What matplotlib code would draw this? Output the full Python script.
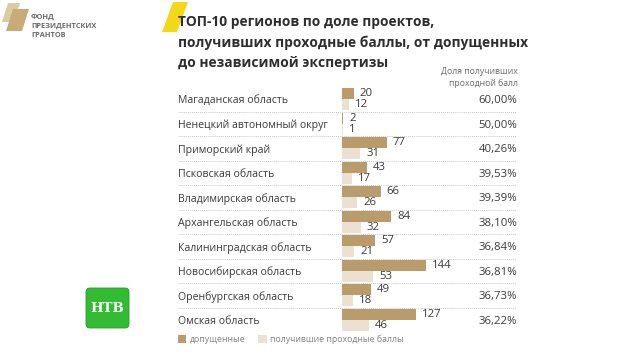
import matplotlib
matplotlib.use("Agg")
import matplotlib.pyplot as plt
from matplotlib.patches import Polygon, FancyBboxPatch, Patch

regions = ["Магаданская область", "Ненецкий автономный округ", "Приморский край",
           "Псковская область", "Владимирская область", "Архангельская область",
           "Калининградская область", "Новосибирская область", "Оренбургская область",
           "Омская область"]
admitted = [20, 2, 77, 43, 66, 84, 57, 144, 49, 127]
passed = [12, 1, 31, 17, 26, 32, 21, 53, 18, 46]
share = ["60,00%", "50,00%", "40,26%", "39,53%", "39,39%", "38,10%",
         "36,84%", "36,81%", "36,73%", "36,22%"]

title_lines = ["ТОП-10 регионов по доле проектов,",
               "получивших проходные баллы, от допущенных",
               "до независимой экспертизы"]
col_header = ["Доля получивших", "проходной балл"]
legend_labels = ["допущенные", "получившие проходные баллы"]
logo_lines = ["ФОНД", "ПРЕЗИДЕНТСКИХ", "ГРАНТОВ"]

DARK = "#BA9B6C"
LIGHT = "#EAE1D3"
TXT = "#3a3a3a"

plt.rcParams['font.family'] = ['Open Sans', 'DejaVu Sans']

W, H = 640, 360
fig = plt.figure(figsize=(W / 100, H / 100), dpi=100)
fig.patch.set_facecolor("white")

# overlay axes in pixel coordinates for decorations
deco = fig.add_axes([0, 0, 1, 1])
deco.set_xlim(0, W)
deco.set_ylim(H, 0)
deco.axis("off")

# logo shapes
deco.add_patch(Polygon([(8, 3), (20, 3), (14, 22), (2, 22)], closed=True,
                       facecolor="#DCC9A6", edgecolor="none"))
deco.add_patch(Polygon([(13, 9), (29, 9), (22, 31), (6, 31)], closed=True,
                       facecolor="#C9AB77", edgecolor="none"))
for i, t in enumerate(logo_lines):
    deco.text(31, 17 + 9.3 * i, t, fontsize=5.3, fontweight="bold",
              color="#6b6b6b", va="center", ha="left")

# yellow accent
deco.add_patch(Polygon([(173, 2), (188, 2), (177, 32), (162, 32)], closed=True,
                       facecolor="#F3D81A", edgecolor="none"))

# title
for i, t in enumerate(title_lines):
    deco.text(178, 22 + 20.5 * i, t, fontsize=9.9, fontweight="bold",
              color="#2e2e2e", va="center", ha="left")

# column header
deco.text(518, 71, col_header[0], fontsize=6.2, color="#6a6a6a", ha="right", va="center")
deco.text(518, 83, col_header[1], fontsize=6.2, color="#6a6a6a", ha="right", va="center")

# NTV logo
deco.add_patch(FancyBboxPatch((86, 288), 43, 40, boxstyle="round,pad=0,rounding_size=4",
                              facecolor="#33BB33", edgecolor="#2a9a2a", linewidth=0.6))
deco.text(107.5, 309, "НТВ", fontsize=9.5, fontweight="bold", color="white",
          ha="center", va="center", family=["DejaVu Serif"])

# main table axes
px_per_unit = 84 / 144.0
x0_px, left_px, right_px = 342, 178, 517
pitch = 24.5
yc0 = 99.3
ylim_top, ylim_bot = -0.6, 9.6
top_px = yc0 + ylim_top * pitch
bot_px = yc0 + ylim_bot * pitch
ax = fig.add_axes([left_px / W, (H - bot_px) / H, (right_px - left_px) / W, (bot_px - top_px) / H])
ax.set_xlim((left_px - x0_px) / px_per_unit, (right_px - x0_px) / px_per_unit)
ax.set_ylim(ylim_bot, ylim_top)
ax.axis("off")

n = len(regions)
ys = list(range(n))
bh = 0.45
ax.barh([y - bh / 2 for y in ys], admitted, height=bh, color=DARK, edgecolor="none")
ax.barh([y + bh / 2 for y in ys], passed, height=bh, color=LIGHT, edgecolor="none")

off = 6 / px_per_unit
for i in ys:
    ax.text(admitted[i] + off, i - bh / 2, str(admitted[i]), fontsize=8.2,
            color=TXT, va="center", ha="left")
    ax.text(passed[i] + off, i + bh / 2, str(passed[i]), fontsize=8.2,
            color=TXT, va="center", ha="left")
    ax.text(0, i + 0.06, regions[i], transform=ax.get_yaxis_transform(),
            fontsize=7.6, color=TXT, va="center", ha="left")
    ax.text(1, i + 0.06, share[i], transform=ax.get_yaxis_transform(),
            fontsize=8.2, color=TXT, va="center", ha="right")
    if i < n - 1:
        ax.axhline(i + 0.5, color="#c8c8c8", linestyle=(0, (1, 1)), linewidth=0.7)

handles = [Patch(facecolor=DARK, edgecolor="none"), Patch(facecolor=LIGHT, edgecolor="none")]
leg = ax.legend(handles, legend_labels, ncol=2, loc="center left",
                bbox_to_anchor=(0, (bot_px - 339.5) / (bot_px - top_px)),
                frameon=False, fontsize=6.3, labelcolor="#808080",
                handlelength=0.95, handleheight=0.95, handletextpad=0.45,
                columnspacing=1.4, borderpad=0, borderaxespad=0)

fig.savefig("out.png", dpi=100, facecolor="white")
